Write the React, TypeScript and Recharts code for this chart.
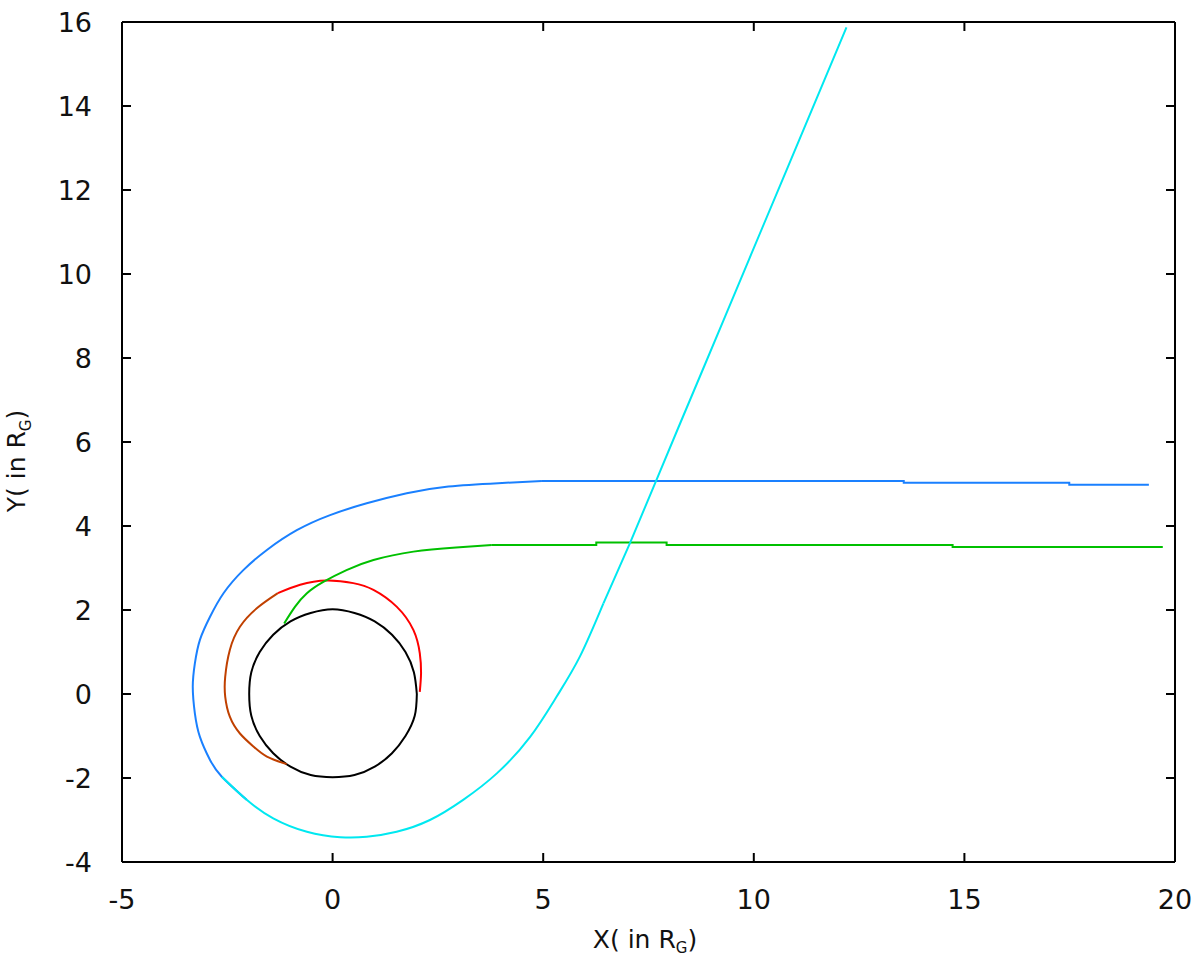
import { LineChart, Line, XAxis, YAxis } from "recharts";

// points, in units of R_G
const blackCircle = [
  { x: 2.0, y: 0.0 }, { x: 1.93, y: 0.52 }, { x: 1.73, y: 1.0 }, { x: 1.41, y: 1.41 },
  { x: 1.0, y: 1.73 }, { x: 0.52, y: 1.93 }, { x: 0.0, y: 2.02 }, { x: -0.52, y: 1.93 },
  { x: -1.0, y: 1.73 }, { x: -1.41, y: 1.41 }, { x: -1.73, y: 1.0 }, { x: -1.93, y: 0.52 },
  { x: -1.98, y: 0.0 }, { x: -1.93, y: -0.52 }, { x: -1.73, y: -1.0 }, { x: -1.41, y: -1.41 },
  { x: -1.0, y: -1.73 }, { x: -0.52, y: -1.93 }, { x: 0.0, y: -1.98 }, { x: 0.52, y: -1.93 },
  { x: 1.0, y: -1.73 }, { x: 1.41, y: -1.41 }, { x: 1.73, y: -1.0 }, { x: 1.95, y: -0.52 },
  { x: 2.0, y: 0.0 },
];

const redArc = [
  { x: 2.07, y: 0.05 }, { x: 2.1, y: 0.5 }, { x: 2.07, y: 0.97 }, { x: 1.92, y: 1.52 },
  { x: 1.52, y: 2.08 }, { x: 0.97, y: 2.48 }, { x: 0.49, y: 2.64 }, { x: -0.14, y: 2.7 },
  { x: -0.77, y: 2.6 }, { x: -1.3, y: 2.4 },
];

const brownArc = [
  { x: -1.3, y: 2.4 }, { x: -1.8, y: 2.04 }, { x: -2.2, y: 1.6 }, { x: -2.44, y: 1.05 },
  { x: -2.55, y: 0.41 }, { x: -2.55, y: -0.06 }, { x: -2.44, y: -0.54 }, { x: -2.2, y: -0.94 },
  { x: -1.88, y: -1.25 }, { x: -1.56, y: -1.49 }, { x: -1.09, y: -1.67 },
];

const greenCurve = [
  { x: -1.15, y: 1.68 }, { x: -0.89, y: 2.08 }, { x: -0.61, y: 2.4 }, { x: -0.22, y: 2.67 },
  { x: 0.33, y: 2.95 }, { x: 0.97, y: 3.19 }, { x: 1.92, y: 3.39 }, { x: 2.93, y: 3.49 },
  { x: 3.78, y: 3.55 },
];

const greenFlat = [
  { x: 3.78, y: 3.55 }, { x: 6.26, y: 3.55 }, { x: 6.26, y: 3.61 }, { x: 7.93, y: 3.61 },
  { x: 7.93, y: 3.55 }, { x: 14.72, y: 3.55 }, { x: 14.72, y: 3.5 }, { x: 19.71, y: 3.5 },
];

const blueFlat = [
  { x: 19.38, y: 4.98 }, { x: 17.49, y: 4.98 }, { x: 17.49, y: 5.03 }, { x: 13.56, y: 5.03 },
  { x: 13.56, y: 5.07 }, { x: 4.97, y: 5.07 },
];

// the last point runs a little past the colour change and sits under the cyan stroke
const blueCurve = [
  { x: 4.97, y: 5.07 }, { x: 3.93, y: 5.02 }, { x: 2.75, y: 4.94 }, { x: 1.76, y: 4.78 },
  { x: 0.81, y: 4.54 }, { x: -0.06, y: 4.26 }, { x: -0.85, y: 3.9 }, { x: -1.56, y: 3.43 },
  { x: -2.12, y: 2.95 }, { x: -2.59, y: 2.4 }, { x: -2.91, y: 1.84 }, { x: -3.15, y: 1.29 },
  { x: -3.27, y: 0.73 }, { x: -3.32, y: 0.17 }, { x: -3.27, y: -0.46 }, { x: -3.15, y: -1.02 },
  { x: -2.91, y: -1.57 }, { x: -2.63, y: -1.97 }, { x: -2.04, y: -2.52 },
];

const cyanCurve = [
  { x: -2.63, y: -1.97 }, { x: -2.04, y: -2.52 }, { x: -1.41, y: -2.96 }, { x: -0.61, y: -3.28 },
  { x: 0.18, y: -3.41 }, { x: 0.81, y: -3.4 }, { x: 1.52, y: -3.28 }, { x: 2.31, y: -3.0 },
  { x: 3.1, y: -2.52 }, { x: 3.9, y: -1.89 }, { x: 4.69, y: -1.02 }, { x: 5.32, y: -0.06 },
  { x: 5.87, y: 0.89 }, { x: 6.43, y: 2.16 },
];

const cyanStraight = [
  { x: 6.43, y: 2.16 }, { x: 7.06, y: 3.59 }, { x: 7.69, y: 5.1 }, { x: 8.17, y: 6.25 },
  { x: 8.8, y: 7.75 }, { x: 9.32, y: 8.99 }, { x: 9.9, y: 10.38 }, { x: 10.78, y: 12.48 },
  { x: 11.5, y: 14.2 }, { x: 12.2, y: 15.87 },
];

const xTicks = [-5, 0, 5, 10, 15, 20];
const yTicks = [-4, -2, 0, 2, 4, 6, 8, 10, 12, 14, 16];

const FONT = "'DejaVu Sans', sans-serif";
const TICK_LEN = 9;

const BottomTick = (props: any) => {
  const { x, y, payload } = props;
  return (
    <g>
      <line x1={x} x2={x} y1={y} y2={y - TICK_LEN} stroke="#000" strokeWidth={2} />
      <text x={x} y={y + 47} textAnchor="middle" fontFamily={FONT} fontSize={27} fill="#111">
        {payload.value}
      </text>
    </g>
  );
};

const LeftTick = (props: any) => {
  const { x, y, payload } = props;
  return (
    <g>
      <line x1={x} x2={x + TICK_LEN} y1={y} y2={y} stroke="#000" strokeWidth={2} />
      <text x={x - 30} y={y + 10} textAnchor="end" fontFamily={FONT} fontSize={27} fill="#111">
        {payload.value}
      </text>
    </g>
  );
};

const TopTick = (props: any) => (
  <line x1={props.x} x2={props.x} y1={props.y} y2={props.y + TICK_LEN} stroke="#000" strokeWidth={2} />
);

const RightTick = (props: any) => (
  <line x1={props.x} x2={props.x - TICK_LEN} y1={props.y} y2={props.y} stroke="#000" strokeWidth={2} />
);

const XTitle = (props: any) => {
  const vb = props.viewBox;
  return (
    <text x={vb.x + 523} y={vb.y + 86} textAnchor="middle" fontFamily={FONT} fontSize={25} fill="#111">
      X( in R
      <tspan fontSize={15} dy={5}>G</tspan>
      <tspan dy={-5}>)</tspan>
    </text>
  );
};

const YTitle = (props: any) => {
  const vb = props.viewBox;
  const cx = vb.x + 3;
  const cy = vb.y + 439;
  return (
    <text
      x={cx}
      y={cy}
      transform={`rotate(-90 ${cx} ${cy})`}
      textAnchor="middle"
      fontFamily={FONT}
      fontSize={25}
      fill="#111"
    >
      Y( in R
      <tspan fontSize={15} dy={6}>G</tspan>
      <tspan dy={-6}>)</tspan>
    </text>
  );
};

const series = [
  { name: "horizon", data: blackCircle, color: "#000000", curve: "natural" },
  { name: "orbitRed", data: redArc, color: "#ff0000", curve: "natural" },
  { name: "orbitBrown", data: brownArc, color: "#c04000", curve: "natural" },
  { name: "greenCurve", data: greenCurve, color: "#00c000", curve: "natural" },
  { name: "greenFlat", data: greenFlat, color: "#00c000", curve: "linear" },
  { name: "blueFlat", data: blueFlat, color: "#1a80ff", curve: "linear" },
  { name: "blueCurve", data: blueCurve, color: "#1a80ff", curve: "natural" },
  { name: "cyanCurve", data: cyanCurve, color: "#00e8f0", curve: "natural" },
  { name: "cyanStraight", data: cyanStraight, color: "#00e8f0", curve: "linear" },
];

export default function App() {
  return (
    <div style={{ position: "absolute", left: 0, top: 0, background: "#fff" }}>
      <LineChart width={1200} height={958} margin={{ top: 21, right: 24, bottom: 36, left: 22 }}>
        <XAxis
          dataKey="x"
          type="number"
          domain={[-5, 20]}
          ticks={xTicks}
          allowDataOverflow
          height={60}
          tickSize={0}
          tickMargin={0}
          tickLine={false}
          tick={<BottomTick />}
          axisLine={{ stroke: "#000", strokeWidth: 2 }}
          label={<XTitle />}
        />
        <XAxis
          xAxisId="top"
          orientation="top"
          dataKey="x"
          type="number"
          domain={[-5, 20]}
          ticks={xTicks}
          allowDataOverflow
          height={1}
          tickSize={0}
          tickMargin={0}
          tickLine={false}
          tick={<TopTick />}
          axisLine={{ stroke: "#000", strokeWidth: 2 }}
        />
        <YAxis
          dataKey="y"
          type="number"
          domain={[-4, 16]}
          ticks={yTicks}
          allowDataOverflow
          width={100}
          tickSize={0}
          tickMargin={0}
          tickLine={false}
          tick={<LeftTick />}
          axisLine={{ stroke: "#000", strokeWidth: 2 }}
          label={<YTitle />}
        />
        <YAxis
          yAxisId="right"
          orientation="right"
          dataKey="y"
          type="number"
          domain={[-4, 16]}
          ticks={yTicks}
          allowDataOverflow
          width={1}
          tickSize={0}
          tickMargin={0}
          tickLine={false}
          tick={<RightTick />}
          axisLine={{ stroke: "#000", strokeWidth: 2 }}
        />
        {series.map((s) => (
          <Line
            key={s.name}
            data={s.data}
            dataKey="y"
            type={s.curve as any}
            stroke={s.color}
            strokeWidth={2}
            dot={false}
            activeDot={false}
            isAnimationActive={false}
          />
        ))}
      </LineChart>
    </div>
  );
}
